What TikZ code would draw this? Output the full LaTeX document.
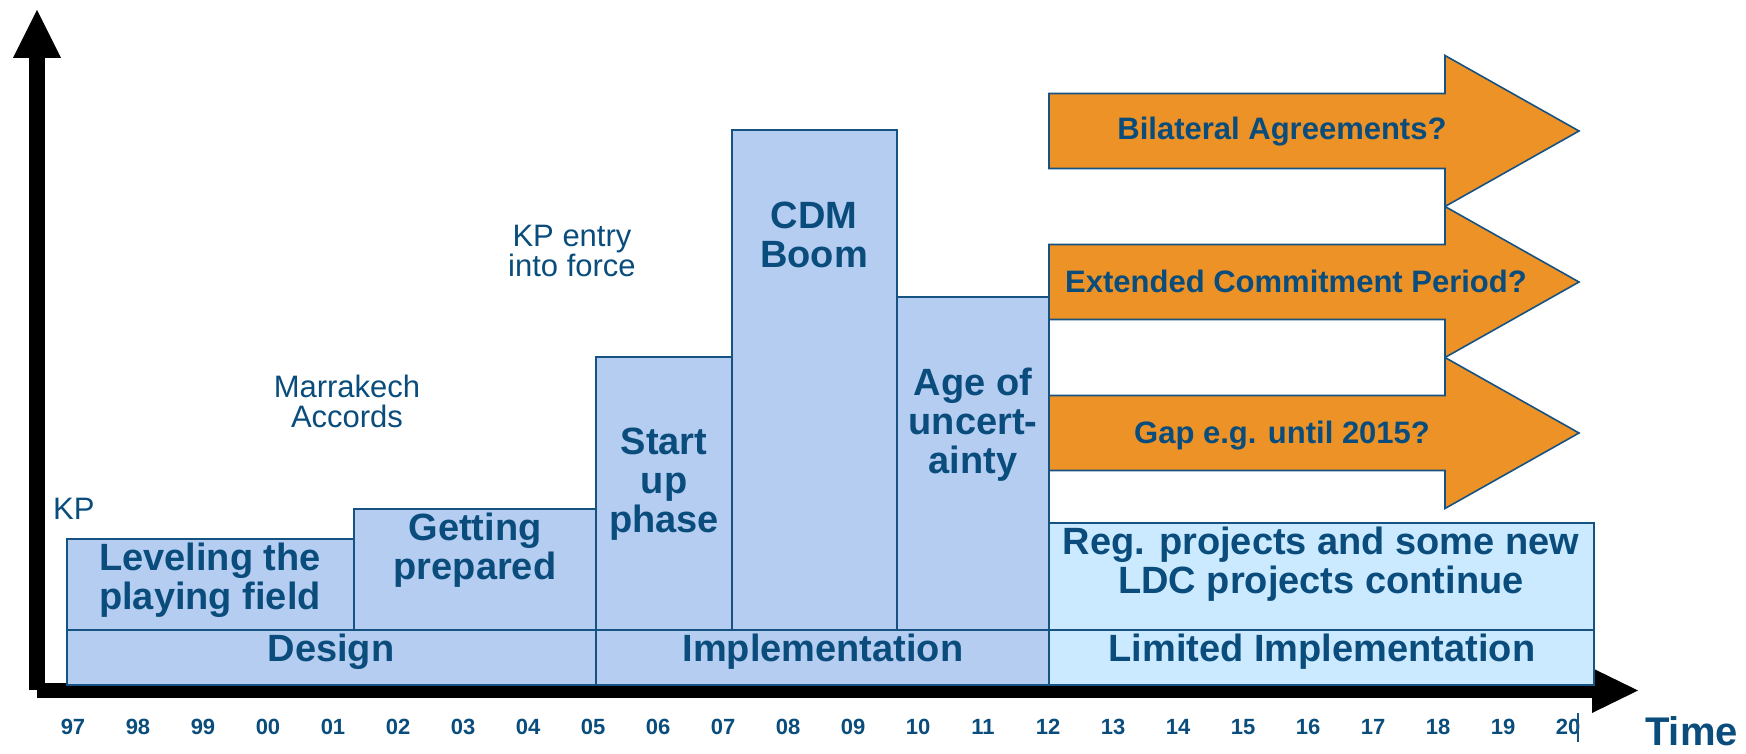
\documentclass[tikz,border=0pt]{standalone}
\usepackage{fontspec}
\setmainfont{Liberation Sans}
\definecolor{inkblue}{RGB}{10,77,124}
\definecolor{edgeblue}{RGB}{22,82,130}
\definecolor{phaseblue}{RGB}{181,205,241}
\definecolor{paleblue}{RGB}{204,234,255}
\definecolor{futureorange}{RGB}{236,146,38}
\begin{document}
\begin{tikzpicture}[x=1pt,y=-1pt,
  phase/.style={draw=edgeblue,line width=2pt,fill=phaseblue,anchor=north west,inner sep=0pt,outer sep=0pt},
  later/.style={phase,fill=paleblue},
  bigtext/.style={text=inkblue,font=\fontsize{38}{39}\selectfont\bfseries,align=center,inner sep=0pt},
  eventtext/.style={text=inkblue,font=\fontsize{31}{30}\selectfont,align=center,inner sep=0pt},
  yeartext/.style={text=inkblue,font=\fontsize{22}{22}\selectfont\bfseries,inner sep=0pt},
  optiontext/.style={text=inkblue,font=\fontsize{31}{31}\selectfont\bfseries,inner sep=0pt,anchor=base},
  optionarrow/.style={draw=edgeblue,line width=1.6pt,fill=futureorange,line join=miter},
  option arrow/.pic={
    \path[optionarrow] (0,-37.5) -- (396,-37.5) -- (396,-75.5) -- (530,0)
      -- (396,75.5) -- (396,37.5) -- (0,37.5) -- cycle;
  },
]
\useasboundingbox (0,0) rectangle (1746,754);

% axes
\fill (28.5,58) rectangle (44.5,690);
\fill (13,58) -- (37,10) -- (61,58) -- cycle;
\fill (37,683) rectangle (1592,698);
\fill (1592,668) -- (1638,690.5) -- (1592,713) -- cycle;

% phases
\node[phase,minimum width=287,minimum height=91]  (level)   at (67,539)  {};
\node[phase,minimum width=242,minimum height=121] (prep)    at (354,509) {};
\node[phase,minimum width=136,minimum height=273] (startup) at (596,357) {};
\node[phase,minimum width=165,minimum height=500] (boom)    at (732,130) {};
\node[phase,minimum width=152,minimum height=333] (age)     at (897,297) {};
\node[later,minimum width=545,minimum height=107] (regproj) at (1049,523) {};
\node[phase,minimum width=529,minimum height=55]  (design)  at (67,630)  {};
\node[phase,minimum width=453,minimum height=55]  (impl)    at (596,630) {};
\node[later,minimum width=545,minimum height=55]  (limited) at (1049,630) {};

\node[bigtext] (leveltxt)   at (210,580)  {Leveling the\\playing field};
\node[bigtext] (preptxt)    at (475,550)  {Getting\\prepared};
\node[bigtext] (startuptxt) at (664,484)  {Start\\up\\phase};
\node[bigtext] (boomtxt)    at (814,235)  {CDM\\Boom};
\node[bigtext] (agetxt)     at (973,425)  {Age of\\uncert-\\ainty};
\node[bigtext] (regtxt)     at (1321,564) {Reg. projects and some new\\LDC projects continue};
\node[bigtext] (designtxt)  at (331,652)  {Design};
\node[bigtext] (impltxt)    at (823,652)  {Implementation};
\node[bigtext] (limtxt)     at (1322,652) {Limited Implementation};

% events
\node[eventtext,anchor=base west] (kp) at (53,519) {KP};
\node[eventtext] (marrakech) at (347,401) {Marrakech\\Accords};
\node[eventtext] (entry)     at (572,251) {KP entry\\into force};

% options after 2012
\pic at (1049,131) {option arrow};
\pic at (1049,282) {option arrow};
\pic at (1049,433) {option arrow};
\node[optiontext] (bilateral) at (1282,140) {Bilateral Agreements?};
\node[optiontext] (extended)  at (1296,292) {Extended Commitment Period?};
\node[optiontext] (gap)       at (1282,443) {Gap e.g. until 2015?};

% years
\foreach \yr [count=\i from 0] in {97,98,99,00,01,02,03,04,05,06,07,08,09,10,11,12,13,14,15,16,17,18,19,20}
  \node[yeartext] (yr\i) at ({73+65*\i},727) {\yr};
\coordinate (tickA) at (1578,713);
\coordinate (tickB) at (1578,742);
\draw[edgeblue,line width=1.3pt] (tickA) -- (tickB);

\node[text=inkblue,font=\fontsize{40}{40}\selectfont\bfseries,anchor=base west,inner sep=0pt] (time) at (1645,745) {Time};
\end{tikzpicture}
\end{document}
